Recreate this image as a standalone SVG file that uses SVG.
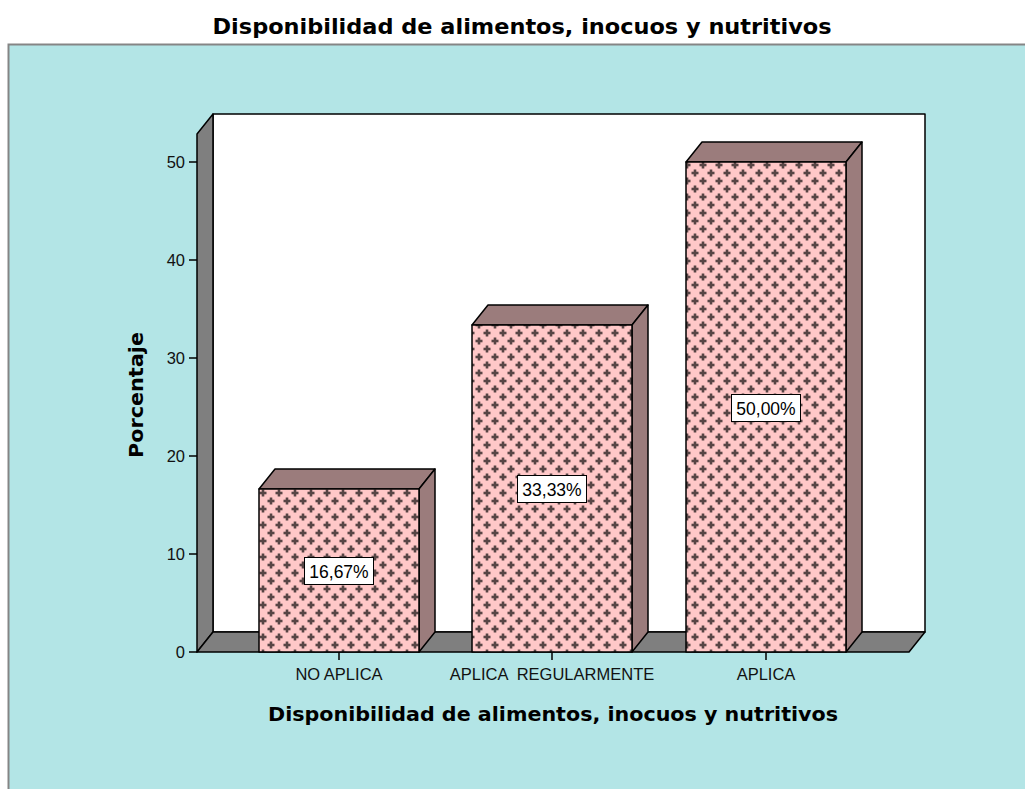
<svg xmlns="http://www.w3.org/2000/svg" width="1025" height="789" viewBox="0 0 1025 789">
<defs>
<style>
.bold{font-family:"DejaVu Sans","Liberation Sans",sans-serif;font-weight:bold;fill:#000}
.lab{font-family:"Liberation Sans",Arial,sans-serif;font-size:16.5px;fill:#111}
.val{font-family:"Liberation Sans",Arial,sans-serif;font-size:17.5px;fill:#000;text-anchor:middle}
.edge{stroke:#000;stroke-width:1.5;stroke-linejoin:round}
.wall{fill:#7f7f7f}
.face{fill:#9b7c7c}
.box{fill:#fff;stroke:#000;stroke-width:1}
.tick{stroke:#000;stroke-width:1.5}
</style>
<pattern id="cross" patternUnits="userSpaceOnUse" x="259" y="489" width="16" height="16">
<rect width="16" height="16" fill="#ffc8c8"/>
<g fill="#574545">
<rect x="0.5" y="2.7" width="7" height="2.6"/><rect x="2.7" y="0.5" width="2.6" height="7"/>
<rect x="8.5" y="10.7" width="7" height="2.6"/><rect x="10.7" y="8.5" width="2.6" height="7"/>
</g>
</pattern>
</defs>
<rect width="1025" height="789" fill="#fff"/>
<text class="bold" x="522" y="34" font-size="21" text-anchor="middle" textLength="619" lengthAdjust="spacingAndGlyphs">Disponibilidad de alimentos, inocuos y nutritivos</text>
<rect id="frame" x="8.5" y="44.5" width="1030" height="800" fill="#b3e5e6" stroke="#858585" stroke-width="2"/>

<g id="plot">
<rect x="213" y="114" width="712" height="518" fill="#fff" class="edge"/>
<polygon class="wall edge" points="197,134 213,114 213,632 197,652"/>
<polygon class="wall edge" points="197,652 213,632 925,632 909,652"/>
</g>

<g id="axes">
<line class="tick" x1="189" y1="162" x2="197" y2="162"/>
<line class="tick" x1="189" y1="260" x2="197" y2="260"/>
<line class="tick" x1="189" y1="358" x2="197" y2="358"/>
<line class="tick" x1="189" y1="456" x2="197" y2="456"/>
<line class="tick" x1="189" y1="554" x2="197" y2="554"/>
<line class="tick" x1="189" y1="652" x2="197" y2="652"/>
<line class="tick" x1="339" y1="652" x2="339" y2="660"/>
<line class="tick" x1="552" y1="652" x2="552" y2="660"/>
<line class="tick" x1="766" y1="652" x2="766" y2="660"/>
<g class="lab" text-anchor="end">
<text x="185" y="168">50</text>
<text x="185" y="266">40</text>
<text x="185" y="364">30</text>
<text x="185" y="462">20</text>
<text x="185" y="560">10</text>
<text x="185" y="658">0</text>
</g>
<g class="lab" text-anchor="middle">
<text x="339" y="680">NO APLICA</text>
<text x="552" y="680" xml:space="preserve">APLICA  REGULARMENTE</text>
<text x="766" y="680">APLICA</text>
</g>
<text class="bold" x="553" y="721" font-size="20" text-anchor="middle" textLength="570" lengthAdjust="spacingAndGlyphs">Disponibilidad de alimentos, inocuos y nutritivos</text>
<text class="bold" transform="translate(143,395) rotate(-90)" font-size="20" text-anchor="middle" textLength="126" lengthAdjust="spacingAndGlyphs">Porcentaje</text>
</g>

<g id="bar-no-aplica">
<polygon class="face edge" points="259,489 275,469 435,469 419,489"/>
<polygon class="face edge" points="419,489 435,469 435,632 419,652"/>
<rect x="259" y="489" width="160" height="163" fill="url(#cross)" class="edge"/>
<rect class="box" x="304.5" y="557.5" width="69" height="27"/>
<text class="val" x="339" y="577.5">16,67%</text>
</g>

<g id="bar-aplica-regularmente">
<polygon class="face edge" points="472,325 488,305 648,305 632,325"/>
<polygon class="face edge" points="632,325 648,305 648,632 632,652"/>
<rect x="472" y="325" width="160" height="327" fill="url(#cross)" class="edge"/>
<rect class="box" x="517.5" y="475.5" width="69" height="27"/>
<text class="val" x="552" y="495.5">33,33%</text>
</g>

<g id="bar-aplica">
<polygon class="face edge" points="686,162 702,142 862,142 846,162"/>
<polygon class="face edge" points="846,162 862,142 862,632 846,652"/>
<rect x="686" y="162" width="160" height="490" fill="url(#cross)" class="edge"/>
<rect class="box" x="731.5" y="394.5" width="69" height="27"/>
<text class="val" x="766" y="414.5">50,00%</text>
</g>
</svg>
